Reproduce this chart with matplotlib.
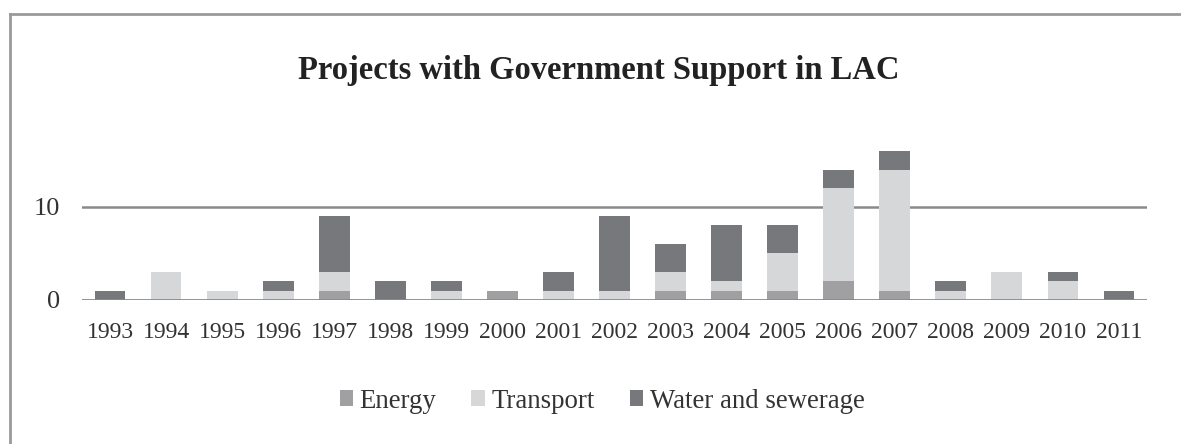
import matplotlib
matplotlib.use("Agg")
import matplotlib.pyplot as plt
from matplotlib.lines import Line2D
import numpy as np

years = ["1993", "1994", "1995", "1996", "1997", "1998", "1999", "2000", "2001", "2002",
         "2003", "2004", "2005", "2006", "2007", "2008", "2009", "2010", "2011"]
energy = [0, 0, 0, 0, 1, 0, 0, 1, 0, 0, 1, 1, 1, 2, 1, 0, 0, 0, 0]
transport = [0, 3, 1, 1, 2, 0, 1, 0, 1, 1, 2, 1, 4, 10, 13, 1, 3, 2, 0]
water = [1, 0, 0, 1, 6, 2, 1, 0, 2, 8, 3, 6, 3, 2, 2, 1, 0, 1, 1]

plt.rcParams['font.family'] = ['Liberation Serif', 'DejaVu Serif']

W, H = 1181, 444
fig = plt.figure(figsize=(W / 100, H / 100), dpi=100)
# frame: top and left borders only
fig.lines.append(Line2D([10 / W, 1.0], [1 - 14 / H, 1 - 14 / H], transform=fig.transFigure,
                        color='#9a9a9a', linewidth=2))
fig.lines.append(Line2D([10 / W, 10 / W], [0, 1 - 14 / H], transform=fig.transFigure,
                        color='#9a9a9a', linewidth=2))

ax = fig.add_axes([82 / W, 1 - 300 / H, (1147 - 82) / W, 163 / H])
x = np.arange(len(years))
e = np.array(energy); t = np.array(transport); w = np.array(water)
c_e, c_t, c_w = '#a0a0a3', '#d6d7d9', '#77787b'
bw = 0.55
ax.bar(x, e, bw, color=c_e, label='Energy', zorder=3)
ax.bar(x, t, bw, bottom=e, color=c_t, label='Transport', zorder=3)
ax.bar(x, w, bw, bottom=e + t, color=c_w, label='Water and sewerage', zorder=3)

ax.set_xlim(-0.5, len(years) - 0.5)
ax.set_ylim(0, 17.5)
ax.set_yticks([0, 10])
ax.set_xticks(x)
ax.set_xticklabels(years, fontsize=17, color='#333333')
ax.tick_params(axis='y', labelsize=19, colors='#333333', length=0, pad=16)
ax.tick_params(axis='x', length=0, pad=16)
ax.axhline(10, color='#8a8a8a', linewidth=1.8, zorder=1)
ax.axhline(0, color='#8a8a8a', linewidth=2, zorder=4)
for s in ax.spines.values():
    s.set_visible(False)

fig.text(599 / W, 1 - 71 / H, 'Projects with Government Support in LAC', ha='center', va='center',
         fontsize=23.5, fontweight='bold', color='#222222')

fig.legend(loc='center', bbox_to_anchor=(602 / W, 1 - 401 / H), ncol=3, frameon=False,
           fontsize=19.3, handlelength=0.5, handleheight=0.5, handletextpad=0.25,
           columnspacing=1.3, labelcolor='#333333')

fig.savefig('out.png', dpi=100)
